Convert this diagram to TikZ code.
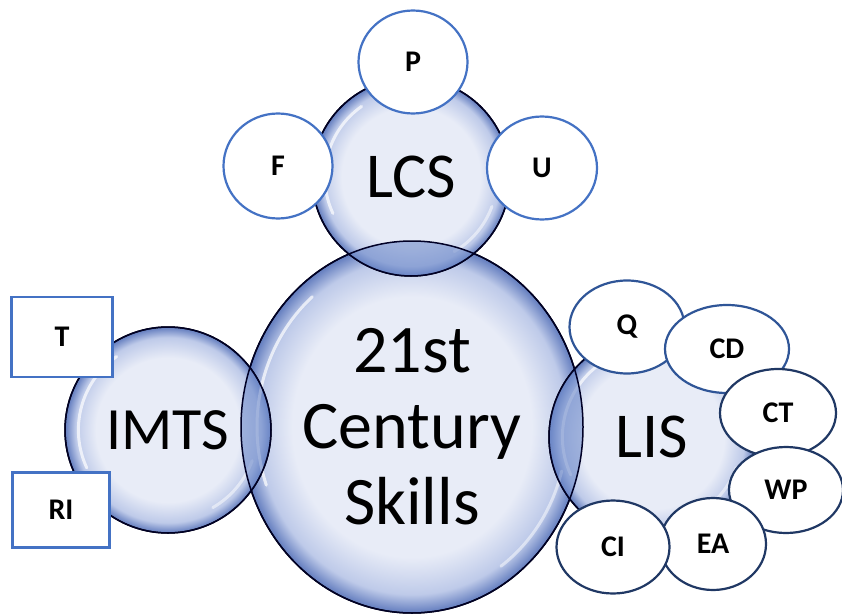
\documentclass[tikz,border=0pt]{standalone}
\usepackage{fontspec}
\setmainfont{Carlito}
\usetikzlibrary{shapes.geometric}
\definecolor{bubin}{RGB}{232,236,247}
\definecolor{bubmid}{RGB}{190,202,233}
\definecolor{bubedge}{RGB}{98,124,190}
\definecolor{lensblue}{RGB}{110,138,202}
\definecolor{tagblue}{RGB}{68,114,196}
\definecolor{ovalblue}{RGB}{47,85,151}
\definecolor{ovalnavy}{RGB}{32,56,100}
\pgfdeclareradialshading{bubble}{\pgfpointorigin}{color(0bp)=(bubin); color(17.5bp)=(bubin); color(22.5bp)=(bubmid); color(25bp)=(bubedge); color(50bp)=(bubedge)}
\tikzset{
  bubble/.style={circle, draw=black, line width=1.5pt, shading=bubble, inner sep=0pt},
  bubline/.style={draw=black!85!blue, line width=1.5pt},
  lens/.style={fill=lensblue, fill opacity=0.6},
  gloss/.style={white, line width=3pt, opacity=0.7, line cap=round},
  tag/.style={ellipse, draw=tagblue, line width=2.2pt, fill=white, inner sep=0pt,
    font=\bfseries\fontsize{30}{32}\selectfont},
  tagbox/.style={rectangle, draw=tagblue, line width=2.2pt, fill=white, inner sep=0pt,
    font=\bfseries\fontsize{30}{32}\selectfont},
  oval/.style={tag, draw=ovalnavy}
}
\begin{document}
\begin{tikzpicture}[x=1pt,y=-1pt]
\useasboundingbox (0,0) rectangle (842,615);
\node[bubble, ellipse, minimum width=342pt, minimum height=372pt, align=center,
  font=\fontsize{68}{76}\selectfont] (skills) at (412,427) {21st\\Century\\Skills};
\node[bubble, minimum size=198pt, font=\fontsize{64}{70}\selectfont] (lcs) at (411,177) {LCS};
\node[bubble, minimum size=206pt, font=\fontsize{60}{66}\selectfont] (imts) at (168,430) {IMTS};
\node[bubble, minimum size=206pt, font=\fontsize{64}{70}\selectfont] (lis) at (652,437) {LIS};
\foreach \n/\r in {lcs/99, imts/103, lis/103} {
  \draw[gloss] (\n.center) ++(205:0.87*\r pt) arc [start angle=205, end angle=125, radius=0.87*\r pt];
  \draw[gloss, opacity=0.5] (\n.center) ++(-20:0.87*\r pt) arc [start angle=-20, end angle=-60, radius=0.87*\r pt];
}
\draw[gloss] (skills.center) ++(200:155pt and 170pt) arc [start angle=200, end angle=130, x radius=155pt, y radius=170pt];
\draw[gloss, opacity=0.5] (skills.center) ++(-15:155pt and 170pt) arc [start angle=-15, end angle=-55, x radius=155pt, y radius=170pt];
\begin{scope}
\clip (skills.center) ellipse [x radius=171pt, y radius=186pt];
\fill[lens] (lcs.center) circle [radius=99pt];
\fill[lens] (imts.center) circle [radius=103pt];
\fill[lens] (lis.center) circle [radius=103pt];
\end{scope}
\draw[bubline] (skills.center) ellipse [x radius=171pt, y radius=186pt];
\draw[bubline] (lcs.center) circle [radius=99pt];
\draw[bubline] (imts.center) circle [radius=103pt];
\draw[bubline] (lis.center) circle [radius=103pt];

\node[tag, minimum width=109pt, minimum height=103pt] (p) at (413,62) {P};
\node[tag, minimum width=109pt, minimum height=105pt] (f) at (278,166) {F};
\node[tag, minimum width=110pt, minimum height=103pt] (u) at (542,168) {U};
\node[tagbox, minimum width=101pt, minimum height=80pt] (t) at (62,337) {T};
\node[tagbox, minimum width=97pt, minimum height=75pt] (ri) at (61,510) {RI};

\node[oval, draw=ovalblue, minimum width=115pt, minimum height=93pt] (q) at (627,327) {Q};
\node[oval, draw=ovalblue, minimum width=124pt, minimum height=88pt] (cd) at (727,349) {CD};
\node[oval, minimum width=116pt, minimum height=88pt] (ct) at (778,413) {CT};
\node[oval, minimum width=114pt, minimum height=86pt] (wp) at (786,490) {WP};
\node[oval, minimum width=106pt, minimum height=92pt] (ea) at (713,544) {EA};
\node[oval, minimum width=113pt, minimum height=93pt] (ci) at (613,547) {CI};
\end{tikzpicture}
\end{document}
